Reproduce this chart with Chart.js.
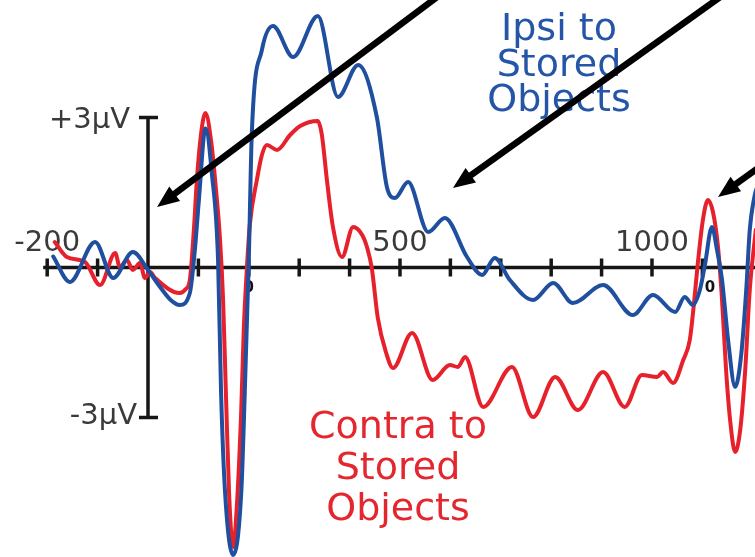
<!DOCTYPE html>
<html><head><meta charset="utf-8">
<style>html,body{margin:0;padding:0;background:#fff;overflow:hidden}canvas{display:block}</style>
<script src="https://cdn.jsdelivr.net/npm/chart.js@4.4.1/dist/chart.umd.min.js"></script>
</head><body>
<canvas id="c" width="755" height="557"></canvas>
<script>
// ---- data (time in ms, amplitude in microvolts) ----
const ipsiTime = [-188,-155,-105,-69,-30,0,24,45,63,83,93,101,114,127,139,145,153,169,185,192,200,206,226,248,288,337,377,417,454,474,490,516,556,589,633,663,688,718,764,804,843,903,962,1002,1046,1065,1081,1095,1105,1119,1129,1139,1151,1165,1177,1187,1194,1204,1212];
const ipsiUV   = [0.22,-0.29,0.51,-0.21,0.31,-0.05,-0.39,-0.65,-0.75,-0.51,0.35,1.35,2.78,1.85,0.15,-2.51,-4.51,-5.75,-4.51,-2.51,0.15,2.69,4.35,4.83,4.21,5.03,3.41,4.05,3.01,1.61,1.39,1.71,0.71,0.99,0.21,-0.15,0.19,-0.25,-0.65,-0.31,-0.71,-0.35,-0.95,-0.55,-0.89,-0.59,-0.75,-0.45,0.05,0.81,0.35,-0.25,-1.45,-2.39,-1.75,-0.45,0.75,1.45,1.7];

const contraTime = [-185,-161,-125,-95,-65,-56,-42,-30,-16,-6,4,14,63,75,83,91,97,105,114,125,135,143,149,155,161,169,177,185,190,196,202,216,226,236,256,282,302,337,345,355,367,385,407,425,435,444,456,472,486,524,565,599,615,629,665,722,764,808,853,903,946,980,1010,1022,1042,1062,1075,1083,1091,1101,1111,1121,1131,1139,1147,1155,1165,1175,1185,1194,1206];
const contraUV   = [0.51,0.21,0.11,-0.35,0.29,0.01,0.15,-0.05,0.09,-0.21,-0.09,-0.21,-0.51,-0.43,-0.25,0.75,1.75,2.65,3.09,2.55,1.55,0.55,-0.65,-2.65,-4.55,-5.59,-4.65,-2.85,-1.25,-0.05,0.85,1.75,2.25,2.45,2.35,2.65,2.83,2.93,2.65,1.75,0.81,0.21,0.81,0.65,0.39,-0.01,-1.01,-1.69,-2.01,-1.31,-2.25,-1.95,-1.99,-1.79,-2.79,-1.99,-2.99,-2.19,-2.85,-2.09,-2.79,-2.15,-2.19,-2.09,-2.31,-1.85,-1.45,-0.75,0.09,0.95,1.35,1.11,0.41,-0.65,-2.05,-3.05,-3.69,-3.25,-2.05,-0.45,0.75];

const xTickValues = [-200,-100,0,100,200,300,400,500,600,700,800,900,1000,1100];
const xTickLabels = ['-200','500','1000'];
const xTickLabelValues = [-200,500,1000];
const yTickValues = [3,-3];
const yTickLabels = ['+3\u03bcV','-3\u03bcV'];
const eventMarkerTimes = [200,1115];
const eventMarkerText = '0';
const ipsiLabel = ['Ipsi to','Stored','Objects'];
const contraLabel = ['Contra to','Stored','Objects'];

// arrows in data units: [tailTime, tailUV, tipTime, tipUV]
const arrows = [[579,5.45,18,1.21],[1141,5.45,605,1.59],[1224,2.09,1131,1.41]];

const ipsiColor = '#1f4f9e';
const contraColor = '#e6212c';

const FONT = '"DejaVu Sans", Verdana, sans-serif';

const axisPlugin = {
  id:'erpAxes',
  beforeDatasetsDraw(chart){
    const c = chart.ctx, xs = chart.scales.x, ys = chart.scales.y;
    const y0 = ys.getPixelForValue(0), x0 = xs.getPixelForValue(0);
    c.save();
    c.strokeStyle = '#161616'; c.lineWidth = 3.5; c.lineCap = 'butt';
    c.beginPath();
    c.moveTo(xs.getPixelForValue(-208), y0); c.lineTo(chart.width, y0);
    xTickValues.forEach(t => { const x = xs.getPixelForValue(t); c.moveTo(x, y0-9); c.lineTo(x, y0+9); });
    c.moveTo(x0, ys.getPixelForValue(3)); c.lineTo(x0, ys.getPixelForValue(-3));
    yTickValues.forEach(v => { const y = ys.getPixelForValue(v); c.moveTo(x0-9, y); c.lineTo(x0+10, y); });
    c.stroke();
    // event markers
    c.fillStyle = '#111'; c.font = 'bold 15px ' + FONT; c.textAlign = 'center'; c.textBaseline = 'middle';
    eventMarkerTimes.forEach(t => c.fillText(eventMarkerText, xs.getPixelForValue(t), y0 + 21));
    // labels
    c.fillStyle = '#3a3a3a'; c.font = '29px ' + FONT;
    c.textAlign = 'center'; c.textBaseline = 'alphabetic';
    xTickLabels.forEach((s,i) => c.fillText(s, xs.getPixelForValue(xTickLabelValues[i]), y0 - 17));
    c.textAlign = 'right';
    c.fillText(yTickLabels[0], x0 - 18, ys.getPixelForValue(yTickValues[0]) + 10);
    c.fillText(yTickLabels[1], x0 - 11, ys.getPixelForValue(yTickValues[1]) + 6);
    c.restore();
  },
  afterDatasetsDraw(chart){
    const c = chart.ctx, xs = chart.scales.x, ys = chart.scales.y;
    c.save();
    // series labels
    c.font = '38px ' + FONT; c.textBaseline = 'alphabetic'; c.textAlign = 'center';
    c.fillStyle = '#2455a6';
    ipsiLabel.forEach((s,i) => c.fillText(s, 559, 40 + i*35.5));
    c.fillStyle = '#e4272f';
    contraLabel.forEach((s,i) => c.fillText(s, 398, 438 + i*41));
    // arrows
    c.strokeStyle = '#000'; c.fillStyle = '#000'; c.lineWidth = 6.5; c.lineCap = 'butt';
    arrows.forEach(a => {
      const x1 = xs.getPixelForValue(a[0]), y1 = ys.getPixelForValue(a[1]);
      const x2 = xs.getPixelForValue(a[2]), y2 = ys.getPixelForValue(a[3]);
      const ang = Math.atan2(y2-y1, x2-x1), L = 22, W = 9;
      const bx = x2 - L*Math.cos(ang), by = y2 - L*Math.sin(ang);
      c.beginPath(); c.moveTo(x1,y1); c.lineTo(bx + 4*Math.cos(ang), by + 4*Math.sin(ang)); c.stroke();
      c.beginPath(); c.moveTo(x2,y2);
      c.lineTo(bx + W*Math.sin(ang), by - W*Math.cos(ang));
      c.lineTo(bx - W*Math.sin(ang), by + W*Math.cos(ang));
      c.closePath(); c.fill();
    });
    c.restore();
  }
};

const toPts = (ts, vs) => ts.map((t,i) => ({x:t, y:vs[i]}));

new Chart(document.getElementById('c'), {
  type:'line',
  data:{datasets:[
    {label:'Ipsi to Stored Objects', data:toPts(ipsiTime, ipsiUV), borderColor:ipsiColor, borderWidth:4,
     pointRadius:0, cubicInterpolationMode:'monotone', fill:false, borderJoinStyle:'round', borderCapStyle:'round'},
    {label:'Contra to Stored Objects', data:toPts(contraTime, contraUV), borderColor:contraColor, borderWidth:4,
     pointRadius:0, cubicInterpolationMode:'monotone', fill:false, borderJoinStyle:'round', borderCapStyle:'round'}
  ]},
  options:{
    responsive:false, animation:false, events:[],
    layout:{padding:0},
    plugins:{legend:{display:false}, tooltip:{enabled:false}},
    scales:{
      x:{type:'linear', display:false, min:-293.65, max:1204.4},
      y:{type:'linear', display:false, min:-5.79, max:5.35}
    }
  },
  plugins:[axisPlugin]
});
</script>
</body></html>
